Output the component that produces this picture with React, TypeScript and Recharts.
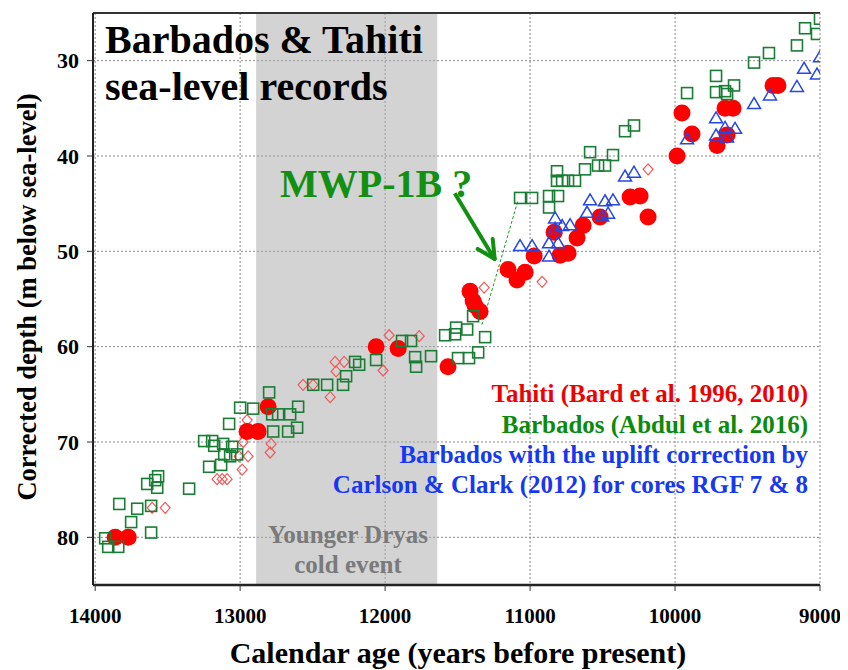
import {
  CartesianGrid,
  ReferenceArea,
  ReferenceDot,
  ReferenceLine,
  Scatter,
  ScatterChart,
  XAxis,
  YAxis,
} from 'recharts';

// Barbados (Abdul et al. 2016) - green squares
const barbadosAge = [
  13931, 13910, 13841, 13752, 13834, 13710, 13614, 13614, 13641, 13586, 13566,
  13572, 13352, 13214, 13131, 13076, 13248, 13193, 13179, 13117, 13055, 13110,
  13069, 13021, 13000, 12910, 12800, 12779, 12738, 12772, 12655, 12600, 12669,
  12607, 12496, 12400, 12290, 12269, 12207, 12179, 12062, 11883, 11821, 11793,
  11786, 11683, 11586, 11517, 11510, 11434, 11393, 11310, 11358, 11421, 11497,
  11069, 10986, 10869, 10807, 10869, 10814, 10814, 10779, 10738, 10690, 10621,
  10586, 10531, 10483, 10428, 10345, 10283, 9917, 9717, 9717, 9655, 9593, 9641,
  9455, 9352, 9159, 9103, 9021, 9000,
];
const barbadosDepth = [
  80.1, 81.0, 81.0, 78.4, 76.5, 77.0, 76.7, 79.5, 74.4, 74.0, 73.6, 74.8, 74.9,
  72.6, 72.4, 68.1, 69.9, 69.9, 70.4, 70.2, 70.5, 71.3, 71.5, 71.3, 66.4, 66.5,
  64.8, 67.1, 67.1, 68.9, 67.1, 66.3, 68.9, 68.5, 64.0, 64.0, 64.0, 63.1, 61.6,
  61.9, 61.4, 59.4, 59.4, 61.1, 62.1, 61.0, 58.8, 58.7, 58.0, 58.2, 56.8, 59.0,
  60.6, 61.2, 61.2, 44.4, 44.4, 44.2, 44.2, 45.4, 41.6, 42.6, 42.6, 42.6, 42.6,
  41.4, 39.6, 41.0, 41.0, 39.9, 37.4, 36.8, 33.4, 31.6, 33.3, 33.2, 32.6, 33.5,
  30.2, 29.2, 28.4, 26.6, 27.2, 25.6,
];

// Barbados with uplift correction (Carlson & Clark 2012) - blue triangles
const upliftAge = [
  11069, 10986, 10869, 10807, 10869, 10827, 10827, 10779, 10724, 10607, 10586,
  10483, 10428, 10462, 10503, 10345, 10283, 9917, 9717, 9717, 9655, 9586, 9641,
  9455, 9345, 9159, 9110, 9021, 9000,
];
const upliftDepth = [
  49.4, 49.4, 49.1, 49.1, 50.5, 46.5, 47.6, 47.3, 47.2, 45.9, 44.6, 44.7, 44.6,
  46.0, 46.3, 42.1, 41.7, 38.2, 36.0, 37.8, 37.0, 37.1, 38.0, 34.5, 33.6, 32.7,
  30.8, 31.4, 29.6,
];

// Tahiti (Bard et al. 1996, 2010) - red circles
const tahitiAge = [
  13862, 13772, 12952, 12876, 12807, 12062, 11910, 11566, 11414, 11393, 11379,
  11345, 11152, 11090, 11034, 10972, 10834, 10793, 10738, 10676, 10634, 10517,
  10310, 10241, 10186, 9986, 9952, 9883, 9710, 9641, 9655, 9600, 9324, 9290,
];
const tahitiDepth = [
  80.0, 80.0, 68.9, 68.9, 66.3, 60.0, 60.2, 62.1, 54.2, 55.2, 55.7, 56.3, 51.9,
  53.0, 52.2, 50.5, 48.0, 50.4, 50.2, 48.6, 47.3, 46.4, 44.3, 44.2, 46.4, 40.0,
  35.5, 37.7, 38.9, 37.8, 35.0, 35.0, 32.6, 32.6,
];

// Tahiti, open diamonds
const tahitiOpenAge = [
  13607, 13517, 13159, 13124, 13090, 12986, 12945, 13007, 12979, 12952, 12786,
  12793, 12566, 12497, 12379, 12345, 12283, 12338, 11972, 12014, 11765, 11317,
  10917, 10186,
];
const tahitiOpenDepth = [
  76.9, 76.9, 73.9, 73.9, 73.9, 72.9, 71.5, 71.5, 70.0, 67.7, 70.2, 71.1, 64.0,
  64.0, 65.3, 61.6, 61.6, 62.6, 58.8, 62.5, 58.9, 53.8, 53.2, 41.4,
];

const ageTicks = [14000, 13000, 12000, 11000, 10000, 9000];
const depthTicks = [30, 40, 50, 60, 70, 80];

const zip = (xs: number[], ys: number[]) => xs.map((x, i) => ({ x, y: ys[i] }));

const barbados = zip(barbadosAge, barbadosDepth);
const uplift = zip(upliftAge, upliftDepth);
const tahiti = zip(tahitiAge, tahitiDepth);
const tahitiOpen = zip(tahitiOpenAge, tahitiOpenDepth);

const serif = "'Liberation Serif', 'DejaVu Serif', serif";

const Square = ({ cx, cy }: any) => (
  <rect x={cx - 5.5} y={cy - 5.5} width={11} height={11} fill='none' stroke='#1a7d35' strokeWidth={1.6} />
);
const Triangle = ({ cx, cy }: any) => (
  <polygon
    points={`${cx},${cy - 6} ${cx - 6.5},${cy + 5} ${cx + 6.5},${cy + 5}`}
    fill='none'
    stroke='#2647e0'
    strokeWidth={1.5}
  />
);
const Dot = ({ cx, cy }: any) => <circle cx={cx} cy={cy} r={8.5} fill='#ff0000' />;
const Diamond = ({ cx, cy }: any) => (
  <polygon
    points={`${cx},${cy - 5.5} ${cx + 5},${cy} ${cx},${cy + 5.5} ${cx - 5},${cy}`}
    fill='none'
    stroke='#f05a5a'
    strokeWidth={1.2}
  />
);
const ArrowHead = ({ cx, cy }: any) => (
  <g stroke='#119011' strokeWidth={4} strokeLinecap='round'>
    <line x1={cx} y1={cy} x2={cx - 17} y2={cy - 10} />
    <line x1={cx} y1={cy} x2={cx - 2} y2={cy - 20} />
  </g>
);

const W = 840;
const H = 662;

export default function App() {
  return (
    <div style={{ position: 'relative', width: W, height: H, fontFamily: serif }}>
      <ScatterChart width={W} height={H} margin={{ top: 5, right: 28, bottom: 0, left: 0 }}>
        <ReferenceArea x1={12890} x2={11640} y1={25} y2={85} fill='#a8a8a8' fillOpacity={0.5} stroke='none' />
        <CartesianGrid strokeDasharray='2 2' stroke='#8a8a8a' />
        <XAxis
          type='number'
          dataKey='x'
          domain={[9000, 14015]}
          reversed
          ticks={ageTicks}
          allowDataOverflow
          height={H - 577}
          tickSize={6}
          tickMargin={17}
          axisLine={{ stroke: '#222', strokeWidth: 2.5 }}
          tickLine={{ stroke: '#333' }}
          tick={{ fill: '#000', fontSize: 21, fontWeight: 'bold', fontFamily: serif }}
        />
        <YAxis
          type='number'
          dataKey='y'
          domain={[25, 85]}
          reversed
          ticks={depthTicks}
          allowDataOverflow
          width={85}
          tickSize={6}
          tickMargin={8}
          axisLine={{ stroke: '#222', strokeWidth: 2 }}
          tickLine={{ stroke: '#333' }}
          tick={{ fill: '#000', fontSize: 22, fontWeight: 'bold', fontFamily: serif }}
        />
        <ReferenceLine y={25} stroke='#333' strokeWidth={2} />
        <ReferenceLine
          segment={[{ x: 11086, y: 44.8 }, { x: 11334, y: 57.8 }]}
          stroke='#1a9a1a'
          strokeDasharray='3 2'
          strokeWidth={1}
        />
        <Scatter data={tahitiOpen} shape={Diamond} isAnimationActive={false} />
        <Scatter data={tahiti} shape={Dot} isAnimationActive={false} />
        <Scatter data={barbados} shape={Square} isAnimationActive={false} />
        <Scatter data={uplift} shape={Triangle} isAnimationActive={false} />
        <ReferenceLine
          segment={[{ x: 11520, y: 43.9 }, { x: 11250, y: 50.7 }]}
          stroke='#119011'
          strokeWidth={4}
        />
        <ReferenceDot x={11244} y={50.8} r={0} shape={ArrowHead} />
      </ScatterChart>
      <svg
        width={W}
        height={H}
        style={{ position: 'absolute', left: 0, top: 0, pointerEvents: 'none', overflow: 'visible' }}
        fontFamily={serif}
        fontWeight='bold'
      >
        <text x={97} y={45} fontSize={40} fill='#000'>Barbados &amp; Tahiti</text>
        <text x={97} y={92} fontSize={40} fill='#000'>sea-level records</text>
        <text x={272} y={189} fontSize={40} fill='#119011'>MWP-1B ?</text>
        <g fontSize={25} textAnchor='end'>
          <text x={800} y={394} fill='#ee0000'>Tahiti (Bard et al. 1996, 2010)</text>
          <text x={800} y={425} fill='#0b8a0b'>Barbados (Abdul et al. 2016)</text>
          <text x={800} y={455} fill='#1638f0'>Barbados with the uplift correction by</text>
          <text x={800} y={485} fill='#1638f0'>Carlson &amp; Clark (2012) for cores RGF 7 &amp; 8</text>
        </g>
        <g fontSize={25} textAnchor='middle' fill='#7a7a7a'>
          <text x={340} y={535}>Younger Dryas</text>
          <text x={340} y={565}>cold event</text>
        </g>
        <text x={450} y={655} fontSize={30} textAnchor='middle' fill='#000'>
          Calendar age (years before present)
        </text>
        <text x={28} y={289} fontSize={26.5} textAnchor='middle' fill='#000' transform='rotate(-90 28 289)'>
          Corrected depth (m below sea-level)
        </text>
      </svg>
    </div>
  );
}
